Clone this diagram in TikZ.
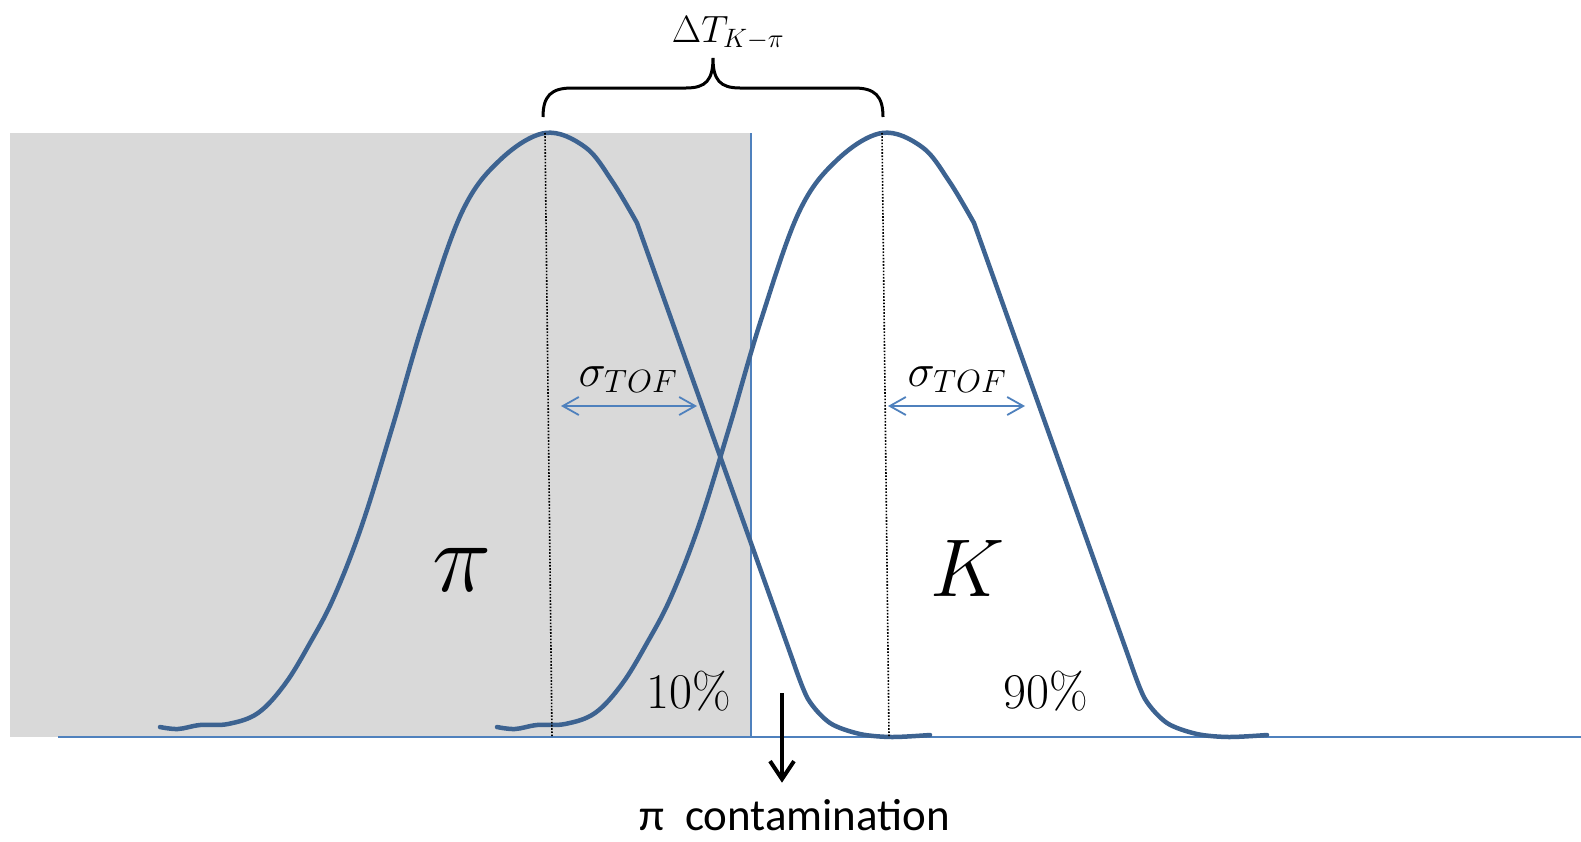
\RequirePackage{fix-cm}
\documentclass[tikz,border=0pt]{standalone}
\usepackage{fontspec}
\newfontfamily\calibri{Carlito}
\usetikzlibrary{arrows.meta, calc, positioning}
\definecolor{curveblue}{HTML}{3D6391}
\definecolor{axisblue}{HTML}{4F81BD}
\definecolor{cutgray}{HTML}{D9D9D9}

\begin{document}
\begin{tikzpicture}[x=1pt, y=-1pt,
    peak/.style={curveblue, line width=4.5pt, line join=round, line cap=round},
    axis/.style={axisblue, line width=2pt},
    centre/.style={black, line width=1.6pt, dash pattern=on 1.6pt off 1.6pt},
    width/.style={axisblue, line width=1.8pt,
      {Straight Barb[length=16pt, width=18pt]}-{Straight Barb[length=16pt, width=18pt]}},
    drop/.style={black, line width=4pt, -{Straight Barb[length=18pt, width=24pt]}},
    brace/.style={black, line width=3pt},
    lbl/.style={inner sep=0pt, anchor=base}
  ]
  \useasboundingbox (0,0) rectangle (1581,841);

  % cut region and time axis
  \fill[cutgray] (10,133) rectangle (751,737);
  \draw[axis] (751,133) -- (751,737);
  \draw[axis] (58,737) -- (1581,737);

  % both peaks, K is the pion peak moved along the axis
  \foreach \dx in {0, 337}{
    \draw[peak, xshift=\dx] plot[smooth, tension=0.6] coordinates {(160,727) (178,729) (200,725)
        (228,724) (258,713) (285,684) (310,643) (334,597) (362,525) (393,425) (424,320)
        (462,212) (500,160) (545,133) (585,147) (612,181) (637,223)}
      -- plot[smooth, tension=0.5] coordinates {(793,661) (808,699) (830,723)
        (860,734) (892,737) (930,735)};
  }
  \coordinate (pitop) at (545,133);
  \coordinate (pibot) at (552,737);
  \coordinate (Ktop) at (882,133);
  \coordinate (Kbot) at (889,737);
  \draw[centre] (pitop) -- (pibot);
  \draw[centre] (Ktop) -- (Kbot);

  % widths
  \coordinate (pil) at (561,406);
  \coordinate (pir) at (697,406);
  \coordinate (Kl) at (888,406);
  \coordinate (Kr) at (1025,406);
  \draw[width] (pil) -- (pir);
  \draw[width] (Kl) -- (Kr);
  \node[lbl, font=\fontsize{46}{50}\selectfont] (sigpi) at (628,386) {$\sigma_{TOF}$};
  \node[lbl, font=\fontsize{46}{50}\selectfont] (sigK) at (957,386) {$\sigma_{TOF}$};

  % separation
  \draw[brace] (543,117) .. controls (543,96) and (551,88) .. (572,88) -- (686,88)
    .. controls (706,88) and (713,80) .. (713,58)
    .. controls (713,80) and (720,88) .. (740,88) -- (854,88)
    .. controls (875,88) and (883,96) .. (883,117);
  \node[lbl, font=\fontsize{38}{42}\selectfont] (dT) at (728,42) {$\Delta T_{K-\pi}$};

  \node[font=\fontsize{100}{100}\selectfont] (pilab) at (462,570) {$\pi$};
  \node[font=\fontsize{82}{82}\selectfont] (klab) at (968,568) {$K$};
  \node[lbl, font=\fontsize{50}{50}\selectfont] (lo) at (689,708) {10\%};
  \node[lbl, font=\fontsize{50}{50}\selectfont] (hi) at (1046,708) {90\%};

  % contamination
  \node[lbl, font=\calibri\fontsize{45}{48}\selectfont] (conta) at (795,830) {π\ \ contamination};
  \coordinate (cut) at (782,693);
  \draw[drop, shorten >=16pt] (cut) -- (cut |- conta.north);
\end{tikzpicture}
\end{document}
